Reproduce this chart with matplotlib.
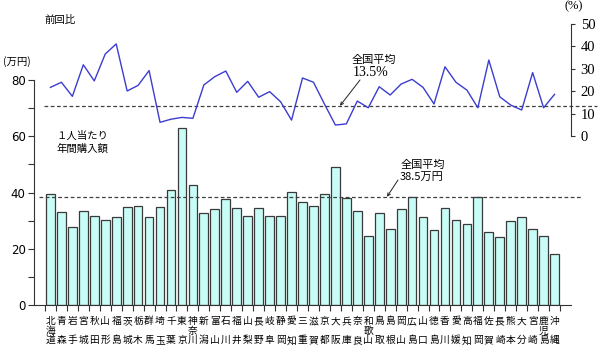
import matplotlib
matplotlib.use("Agg")
import matplotlib.pyplot as plt
from matplotlib.ticker import MultipleLocator, FixedLocator

# ---------------------------------------------------------------------------
# Data
# ---------------------------------------------------------------------------
prefectures = [
    "北海道", "青森", "岩手", "宮城", "秋田", "山形", "福島", "茨城", "栃木", "群馬",
    "埼玉", "千葉", "東京", "神奈川", "新潟", "富山", "石川", "福井", "山梨", "長野",
    "岐阜", "静岡", "愛知", "三重", "滋賀", "京都", "大阪", "兵庫", "奈良", "和歌山",
    "鳥取", "島根", "岡山", "広島", "山口", "徳島", "香川", "愛媛", "高知", "福岡",
    "佐賀", "長崎", "熊本", "大分", "宮崎", "鹿児島", "沖縄",
]

# 1人当たり年間購入額 (万円)
purchase = [
    39.4, 33.2, 27.6, 33.4, 31.6, 30.1, 31.2, 34.9, 35.1, 31.2,
    34.9, 40.8, 62.9, 42.6, 32.6, 34.3, 37.6, 34.6, 31.8, 34.6,
    31.8, 31.6, 40.2, 36.5, 35.1, 39.5, 49.0, 38.2, 33.3, 24.4,
    32.6, 26.9, 34.1, 38.5, 31.2, 26.6, 34.4, 30.1, 28.7, 38.5,
    25.9, 24.1, 29.9, 31.2, 26.9, 24.4, 18.0,
]

# 前回比 (%)
change = [
    21.7, 24.0, 17.7, 31.8, 24.6, 36.6, 41.1, 20.1, 22.6, 29.2,
    6.1, 7.5, 8.3, 7.9, 22.8, 26.5, 29.0, 19.5, 24.4, 17.3,
    19.8, 15.3, 7.1, 25.9, 24.0, 14.3, 4.9, 5.4, 15.6, 12.6,
    22.0, 18.3, 23.2, 25.3, 21.7, 14.3, 30.9, 24.0, 20.5, 12.6,
    33.9, 17.5, 13.8, 11.6, 28.3, 12.6, 18.6,
]

PURCHASE_AVG = 38.5
CHANGE_AVG = 13.5

W, H = 600, 359
JP = ["Noto Sans CJK JP", "DejaVu Sans"]


def px(x, y):
    """Top-left pixel position -> figure fraction."""
    return x / W, 1 - y / H


fig = plt.figure(figsize=(W / 100, H / 100), dpi=100)

# ---------------------------------------------------------------------------
# Bars (left axis)
# ---------------------------------------------------------------------------
ax = fig.add_axes([34 / W, 54 / H, 537 / W, 225 / H])
n = len(prefectures)
xs = list(range(n))
ax.bar(xs, purchase, width=0.8, color="#c8fcf6", edgecolor="#3a3a3a", linewidth=0.9, zorder=2)
ax.set_xlim(-1.5, n + 0.5)
ax.set_ylim(0, 80)
ax.spines["top"].set_visible(False)
ax.spines["right"].set_visible(False)
ax.spines["left"].set_color("#333333")
ax.spines["bottom"].set_color("#333333")
ax.yaxis.set_major_locator(MultipleLocator(20))
ax.yaxis.set_minor_locator(MultipleLocator(10))
ax.tick_params(axis="y", which="both", length=4, width=0.8, color="#333333",
               labelsize=8.5, pad=2)

labels = []
for name in prefectures:
    if len(name) == 2:
        labels.append(f"{name[0]}\n\n{name[1]}")
    else:
        labels.append("\n".join(name))
ax.set_xticks(xs)
ax.set_xticklabels(labels, fontfamily=JP, fontsize=7, linespacing=0.95)
ax.xaxis.set_minor_locator(FixedLocator([i - 0.5 for i in range(n + 1)]))
ax.tick_params(axis="x", which="major", length=0, pad=8)
ax.tick_params(axis="x", which="minor", length=4, width=0.8, color="#333333")

ax.hlines(PURCHASE_AVG, -1.05, n + 1.5, colors="#404040", linestyles=(0, (3, 2)),
          linewidth=0.9, clip_on=False, zorder=3)

# ---------------------------------------------------------------------------
# Line (right axis, upper band)
# ---------------------------------------------------------------------------
ax2 = fig.add_axes([34 / W, (H - 136) / H, 537 / W, 112 / H])
ax2.patch.set_visible(False)
for side in ("top", "left", "bottom"):
    ax2.spines[side].set_visible(False)
ax2.spines["right"].set_color("#333333")
ax2.plot(xs, change, color="#3c3cd0", linewidth=1.0, zorder=3)
ax2.set_xlim(ax.get_xlim())
ax2.set_ylim(0, 50)
ax2.set_xticks([])
ax2.yaxis.tick_right()
ax2.yaxis.set_major_locator(MultipleLocator(10))
ax2.tick_params(axis="y", length=3, width=0.8, color="#333333", pad=4)
for t in ax2.get_yticklabels():
    t.set_fontfamily("Liberation Serif")
    t.set_fontsize(10.5)

ax2.hlines(CHANGE_AVG, -0.6, n + 2.9, colors="#404040", linestyles=(0, (3, 2)),
           linewidth=0.9, clip_on=False, zorder=2)

# ---------------------------------------------------------------------------
# Texts and annotations
# ---------------------------------------------------------------------------
fig.text(*px(60, 20), "前回比", fontfamily=JP, fontsize=7.5, ha="center", va="center")
fig.text(*px(17, 62), "(万円)", fontfamily=JP, fontsize=7.5, ha="center", va="center")
fig.text(*px(574, 6), "(%)", fontfamily=["Liberation Serif"], fontsize=9, ha="center", va="center")
fig.text(*px(82, 136), "１人当たり", fontfamily=JP, fontsize=7.5, ha="center", va="center")
fig.text(*px(82, 149), "年間購入額", fontfamily=JP, fontsize=7.5, ha="center", va="center")

fig.text(*px(374, 60), "全国平均", fontfamily=JP, fontsize=8, ha="center", va="center")
fig.text(*px(371, 73), f"{CHANGE_AVG}%", fontfamily="Liberation Serif", fontsize=10,
         ha="center", va="center")
ax2.annotate("", xy=((340 - 34) / 537 * 49 - 1.5, CHANGE_AVG), xytext=px(360, 80),
             textcoords="figure fraction",
             arrowprops=dict(arrowstyle="->", lw=0.7, color="#222222",
                             shrinkA=0, shrinkB=0, mutation_scale=5))

fig.text(*px(423, 165), "全国平均", fontfamily=JP, fontsize=8, ha="center", va="center")
fig.text(*px(422, 177), f"{PURCHASE_AVG}万円", fontfamily=JP, fontsize=8,
         ha="center", va="center")
ax.annotate("", xy=((387 - 34) / 537 * 49 - 1.5, PURCHASE_AVG), xytext=px(398, 180),
            textcoords="figure fraction",
            arrowprops=dict(arrowstyle="->", lw=0.7, color="#222222",
                            shrinkA=0, shrinkB=0, mutation_scale=5))

fig.savefig("out.png", dpi=100)
